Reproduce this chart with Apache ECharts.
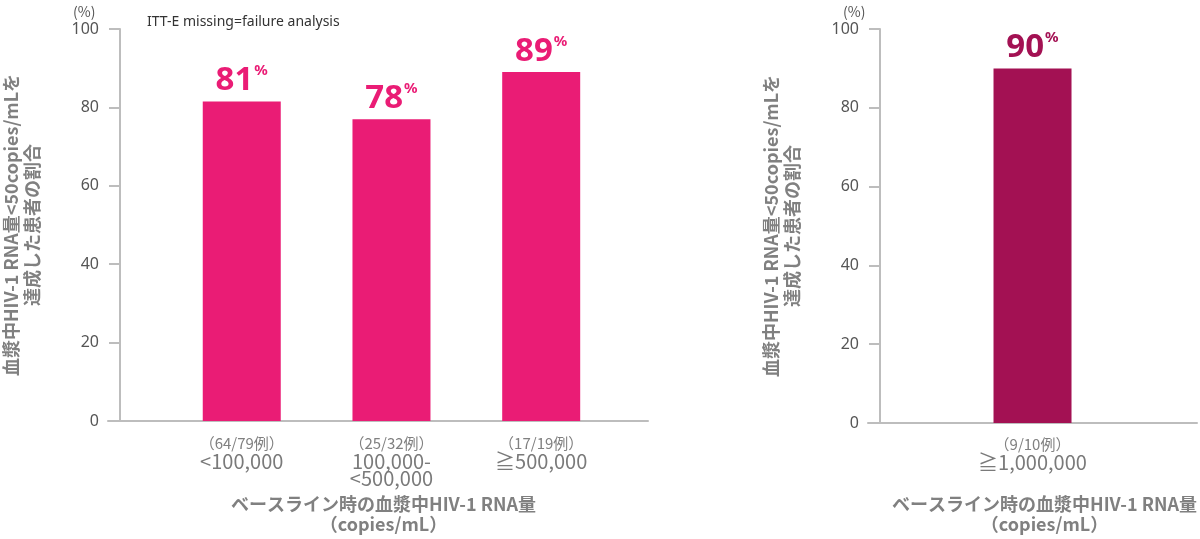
<!DOCTYPE html>
<html>
<head>
<meta charset="utf-8">
<script src="https://cdn.jsdelivr.net/npm/echarts@6/dist/echarts.min.js"></script>
<style>
html,body{margin:0;padding:0;background:#fff;}
#c{width:1200px;height:539px;}
</style>
</head>
<body>
<div id="c"></div>
<script>
// ---- data ----
const categoriesLeft = ['<100,000', '100,000-\n<500,000', '≧500,000'];
const casesLeft = ['（64/79例）', '（25/32例）', '（17/19例）'];
const valuesLeft = [81.5, 77, 89];
const labelsLeft = ['81', '78', '89'];

const categoriesRight = ['≧1,000,000'];
const casesRight = ['（9/10例）'];
const valuesRight = [90];
const labelsRight = ['90'];

const yMin = 0, yMax = 100, yInterval = 20;

const yName = '血漿中HIV-1 RNA量<50copies/mLを\n達成した患者の割合';
const xName = 'ベースライン時の血漿中HIV-1 RNA量\n（copies/mL）';
const unitText = '(%)';
const noteText = 'ITT-E missing=failure analysis';

// ---- styles ----
const PINK = '#EA1C75';
const WINE = '#A31153';
const AXIS = '#BDBDBD';
const FONT = "'Noto Sans CJK JP', 'Noto Sans', sans-serif";

function catLabel(cases, cat) {
  const lines = cat.split('\n').map(s => '{v|' + s + '}');
  return '{n|' + cases + '}\n' + lines.join('\n');
}
const catRich = {
  n: { fontSize: 15, color: '#808080', lineHeight: 19, fontFamily: FONT },
  v: { fontSize: 20, color: '#7a7a7a', lineHeight: 17, fontFamily: FONT }
};
function valLabel(color, texts) {
  return {
    show: true,
    position: 'top',
    distance: 4,
    formatter: p => '{a|' + texts[p.dataIndex] + '}{b|%}',
    rich: {
      a: { fontSize: 33, fontWeight: 'bold', color: color, fontFamily: "'Noto Sans', sans-serif", lineHeight: 34 },
      b: { fontSize: 15, fontWeight: 'bold', color: color, fontFamily: "'Noto Sans', sans-serif", verticalAlign: 'top', lineHeight: 34, padding: [0, 0, 19, 1] }
    }
  };
}
function yAxisOpt(gi) {
  return {
    type: 'value', gridIndex: gi, min: yMin, max: yMax, interval: yInterval,
    offset: -12,
    axisLine: { show: true, onZero: false, lineStyle: { color: AXIS, width: 2 } },
    axisTick: { show: true, length: 11, lineStyle: { color: AXIS, width: 2 } },
    splitLine: { show: false },
    axisLabel: { fontSize: 16, color: '#555', margin: 21, fontFamily: "'Noto Sans', sans-serif" },
    name: yName, nameLocation: 'middle', nameRotate: 90, nameGap: 77,
    nameTextStyle: { fontSize: 18, lineHeight: 21, color: '#808080', fontWeight: 'bold', fontFamily: FONT }
  };
}

const chart = echarts.init(document.getElementById('c'), null, { renderer: 'canvas' });
chart.setOption({
  animation: false,
  textStyle: { fontFamily: FONT },
  title: [
    { text: unitText, left: 68, top: 0, textStyle: { fontSize: 14, color: '#555', fontWeight: 'normal', fontFamily: FONT } },
    { text: noteText, left: 142, top: 10, textStyle: { fontSize: 14, color: '#333', fontWeight: 'normal', fontFamily: "'Noto Sans', sans-serif" } },
    { text: unitText, left: 838, top: 0, textStyle: { fontSize: 14, color: '#555', fontWeight: 'normal', fontFamily: FONT } }
  ],
  grid: [
    { left: 107, top: 29, width: 541, height: 395 },
    { left: 868, top: 29, width: 330, height: 395 }
  ],
  xAxis: [
    {
      type: 'value', gridIndex: 0,
      min: 1 - 134 / 150, max: 1 + 407 / 150,
      axisLine: { show: true, onZero: false, lineStyle: { color: AXIS, width: 2 } },
      axisTick: { show: false },
      splitLine: { show: false },
      axisLabel: {
        show: true, margin: 13,
        customValues: categoriesLeft.map((_, i) => i + 1),
        formatter: v => catLabel(casesLeft[Math.round(v) - 1], categoriesLeft[Math.round(v) - 1]),
        rich: catRich
      },
      name: xName, nameLocation: 'middle', nameGap: 73,
      nameTextStyle: { fontSize: 18, lineHeight: 20, color: '#808080', fontWeight: 'bold', padding: [0, 0, 0, 11], fontFamily: FONT }
    },
    {
      type: 'category', gridIndex: 1, data: categoriesRight,
      axisLine: { show: true, onZero: false, lineStyle: { color: AXIS, width: 2 } },
      axisTick: { show: false },
      axisLabel: {
        margin: 12,
        formatter: (v, i) => catLabel(casesRight[i], v),
        rich: catRich
      },
      name: xName, nameLocation: 'middle', nameGap: 71,
      nameTextStyle: { fontSize: 18, lineHeight: 20, color: '#808080', fontWeight: 'bold', padding: [0, 0, 0, 24], fontFamily: FONT }
    }
  ],
  yAxis: [yAxisOpt(0), yAxisOpt(1)],
  series: [
    {
      type: 'bar', xAxisIndex: 0, yAxisIndex: 0, barWidth: 78,
      data: valuesLeft.map((v, i) => [i + 1, v]),
      itemStyle: { color: PINK },
      label: valLabel(PINK, labelsLeft)
    },
    {
      type: 'bar', xAxisIndex: 1, yAxisIndex: 1, barWidth: 78,
      data: valuesRight,
      itemStyle: { color: WINE },
      label: valLabel(WINE, labelsRight)
    }
  ]
});
</script>
</body>
</html>
